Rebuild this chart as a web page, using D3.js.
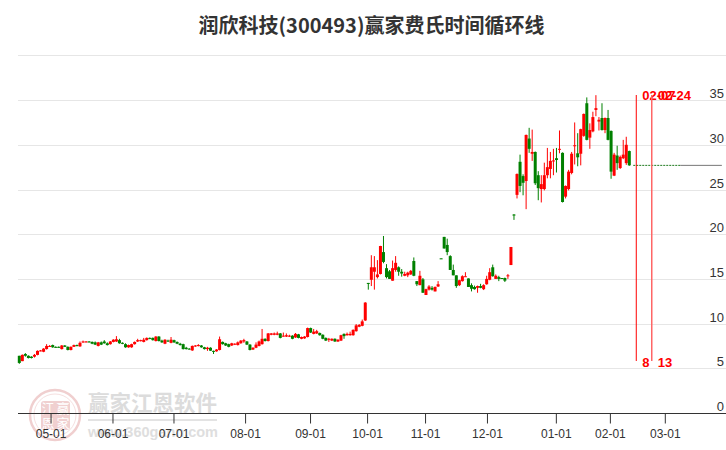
<!DOCTYPE html>
<html><head><meta charset="utf-8">
<script src="https://cdn.jsdelivr.net/npm/d3@7"></script>
<style>html,body{margin:0;padding:0;background:#fff;overflow:hidden}svg{display:block}</style>
</head><body><div id="chart"></div>
<script>
const titleText="润欣科技(300493)赢家费氏时间循环线";
const opens=[6.4,5.8,6.6,6.4,6.3,6.3,6.5,6.95,6.85,7.15,7.45,7.6,7.4,7.4,7.15,7.55,7.4,7.05,7.4,7.6,7.45,7.9,7.95,8.0,7.95,7.9,7.5,7.9,8.0,7.8,7.7,7.95,8.0,
8.15,7.85,7.7,7.35,7.35,7.7,8.0,8.05,7.95,8.15,8.4,8.4,8.05,8.55,8.1,7.75,8.1,7.85,8.15,7.95,7.75,7.7,7.3,7.2,7.0,7.45,7.5,7.55,7.35,7.15,7.3,6.95,6.9,7.05,
7.95,7.8,7.7,7.55,7.65,7.6,7.8,8.0,8.0,7.65,7.1,7.3,7.5,7.7,8.3,8.05,8.75,8.75,8.75,8.9,8.6,8.55,8.55,8.65,8.45,8.8,8.3,8.35,8.5,9.5,8.85,
8.9,8.95,8.75,8.4,8.25,8.1,8.3,8.0,8.1,8.85,8.7,8.7,8.7,9.15,9.65,9.75,10.35,
14.55,14.9,15.8,15.2,15.55,18,16.2,15.85,14.8,16,16.3,15.8,15.35,15.4,15.5,17,14.75,14.3,14.95,13.2,13.8,14,13.6,14.15,17.3,19.7,18.8,17.55,16,15.4,14.3,14.75,15.25,15.05,14.3,14.1,14.0,14.2,13.85,14.4,14.9,16.3,15,15.2,15.1,15.1,15.35,16.55,
22.2,24.4,28.1,26.5,25.95,30.7,29,29.2,26.6,25.05,25.05,26.6,27.3,28.15,28.5,29.45,29.1,24.2,25.05,26.85,29.85,29.05,29,31,34.65,30.8,31.5,33.9,32.6,33,31.65,33,31.55,26.55,28.8,27.4,28.5,27.95,29.3];
const closes=[5.6,6.5,6.4,6.15,6.15,6.5,6.95,7.0,7.2,7.5,7.5,7.35,7.35,7.35,7.55,7.4,7.05,7.4,7.6,7.5,7.85,8.0,8.0,7.95,7.75,7.65,7.9,7.65,7.8,7.6,8.0,8.2,8.25,
7.8,7.75,7.35,7.6,7.7,7.95,8.15,8.15,8.2,8.4,8.3,8.15,8.55,8.05,7.9,8.2,8.0,8.2,7.9,7.75,7.6,7.15,7.15,7.15,7.5,7.55,7.6,7.35,7.15,7.3,6.97,6.85,7.1,8.25,
7.7,7.55,7.4,7.8,7.75,7.9,8.1,8.15,7.65,7.05,7.3,7.65,8.0,8.3,8.05,8.9,8.9,8.9,8.9,8.4,8.65,8.7,8.65,8.3,8.85,8.4,8.5,8.55,9.5,9.0,9.1,
9.15,8.7,8.3,8.1,8.3,8.3,8.0,8.2,8.7,8.6,8.85,8.85,9.3,9.8,9.85,10.25,12.35,
14.5,16.3,16.3,15.5,18.68,16.9,15.2,15.0,16.2,16.8,15.8,15.6,15.55,15.7,15.9,15.35,14.4,15.35,13.45,13.85,14.15,13.8,14.1,14.4,17.25,18.4,18,16,15.4,14.2,14.85,15.3,15.3,14.1,13.9,13.85,14.2,14.0,14.3,15,15.75,15.3,15.35,15,15.05,14.8,15.4,18.57,
22.15,26.73,25.4,25.75,31.1,29.55,29.2,25.7,25.15,25.6,26.6,27.5,28.2,28.25,28.3,29.55,23.6,25.4,27,29,29.95,28.6,31.75,33.45,30.55,31.65,33.1,34.1,32.8,31.65,33,30.55,27,28.9,27.95,28.65,28.9,30,27.7];
const highs=[6.4,6.55,6.7,6.45,6.35,6.6,7.0,7.05,7.25,7.7,7.6,7.65,7.45,7.45,7.6,7.6,7.45,7.45,7.65,7.65,8.0,8.1,8.05,8.05,8.0,8.0,7.95,8.0,8.15,7.9,8.05,8.25,8.6,
8.3,7.9,7.8,7.65,7.75,8.0,8.3,8.2,8.4,8.45,8.45,8.45,8.6,8.6,8.2,8.25,8.2,8.5,8.2,8.0,7.85,7.75,7.4,7.25,7.55,7.6,7.7,7.6,7.4,7.4,7.35,6.98,7.15,8.55,
8.0,7.85,7.75,7.85,7.8,8.0,8.15,8.3,8.05,7.7,7.35,7.9,8.1,9.4,8.35,8.95,8.95,9.0,9.1,8.95,9.0,8.9,8.75,8.7,8.95,8.85,8.55,8.6,9.55,9.55,9.4,
9.3,9.0,8.8,8.45,8.4,8.35,8.35,8.25,8.75,8.9,9.0,9.1,9.35,9.95,9.95,10.45,12.4,
14.55,17.65,17.55,17.1,18.7,19.8,16.65,16.0,17.05,17.55,16.4,16.1,15.8,15.8,16.0,17.4,14.75,15.9,15.1,13.9,14.3,14.2,14.15,14.75,17.3,19.7,19.5,17.65,16.6,15.4,14.9,15.4,15.75,15.05,14.5,14.25,14.25,14.45,14.4,15.35,16.2,16.6,15.5,15.35,15.1,15.15,15.55,18.57,
22.25,26.8,28.9,26.7,31.15,31.9,31.7,29.25,27.05,26.6,28,29.65,29.2,29.55,29.65,31.6,29.15,25.45,27.2,29.2,32.5,31.3,31.8,33.5,35.3,32.4,33.7,35.55,33.1,34.65,33.05,33.9,31.6,29.1,29.9,28.8,30.55,30.9,29.35];
const lows=[5.5,5.8,6.3,6.1,6.1,6.2,6.45,6.9,6.8,7.1,7.4,7.3,7.3,7.3,7.1,7.4,7.0,7.0,7.4,7.45,7.4,7.85,7.9,7.9,7.7,7.6,7.45,7.6,7.75,7.55,7.65,7.9,7.95,
7.75,7.7,7.3,7.3,7.3,7.65,7.95,8.0,7.9,8.1,8.25,8.1,8.0,8.0,7.85,7.7,7.95,7.8,7.85,7.7,7.55,7.1,7.1,7.1,6.95,7.4,7.45,7.3,7.1,6.95,6.95,6.6,6.85,7.0,
7.65,7.5,7.35,7.5,7.6,7.55,7.75,7.85,7.6,7.0,7.05,7.25,7.45,7.65,8.0,8.0,8.7,8.7,8.7,8.35,8.55,8.5,8.5,8.25,8.4,8.35,8.25,8.3,8.45,8.95,8.8,
8.85,8.65,8.25,8.05,7.95,8.05,7.95,7.95,8.05,8.3,8.65,8.65,8.65,9.1,9.6,9.7,10.3,
13.8,14.2,13.8,15.05,15.5,16.75,15.05,15,14.8,15.8,15.35,15.25,15.3,15.2,15.45,15.3,14.2,14.3,13.45,13.2,13.7,13.7,13.6,14.1,17.25,18.4,17.65,16,15.4,14,14.2,14.7,15.25,14.1,13.6,13.8,13.45,13.95,13.75,14.35,14.85,15.25,15,14.75,15.05,14.65,15,16.55,
21.6,24.0,24.7,24.35,22.8,29.1,28.2,25.5,23.8,23.55,24.9,26.25,26.25,26.6,26.9,29.05,23.55,24,24.9,26.7,27.8,27.6,27.7,30.9,30.5,29.55,31.4,33.2,31.6,31.6,31.3,30.5,26.2,26.5,27.2,27.3,28.4,27.75,27.65];

const yTicks=[0,5,10,15,20,25,30,35];
const gridValues=[5,10,15,20,25,30,35,40];
const tickLabels=["05-01","06-01","07-01","08-01","09-01","10-01","11-01","12-01","01-01","02-01","03-01"];
const tickSlots=[10.3,30.7,50.8,74.4,95.8,114.6,133.7,154.1,176.8,194.6,212.7];
const cycleSlots=[203.3,208.4];
const cycleDates=["02-07","02-24"];
const cycleCounts=["8","13"];
const lastSlots=[202.3,217.8,231.5];

const W=726,H=450;
const svg=d3.select("#chart").append("svg").attr("width",W).attr("height",H).style("font-family","'Liberation Sans',Arial,sans-serif");
const x=d3.scaleLinear().domain([0,opens.length-1]).range([19.3,629.3]);
const y=d3.scaleLinear().domain([0,40]).range([413,55.4]);

// watermark
const wm=svg.append("g");
wm.append("circle").attr("cx",55).attr("cy",415).attr("r",25).attr("fill","none").attr("stroke","#f0cfcf").attr("stroke-width",2.5);
wm.append("circle").attr("cx",55).attr("cy",415).attr("r",21).attr("fill","none").attr("stroke","#f6e0e0").attr("stroke-width",1);
wm.append("rect").attr("x",41).attr("y",401).attr("width",29).attr("height",29).attr("rx",3).attr("fill","#f0d0d0");
[["江",48,413],["赢",63,413],["恩",48,428],["家",63,428]].forEach(d=>{
  wm.append("text").attr("x",d[1]).attr("y",d[2]).attr("text-anchor","middle").attr("font-size",13).attr("font-family","'Noto Sans CJK SC'").attr("fill","#fff").text(d[0]);
});
wm.append("text").attr("x",88).attr("y",411).attr("font-size",21.5).attr("font-weight",700).attr("font-family","'Noto Sans CJK SC'").attr("fill","#dcdcdc").text("赢家江恩软件");
wm.append("rect").attr("x",88).attr("y",419).attr("width",129).attr("height",2).attr("fill","#e3e3e3");
wm.append("text").attr("x",88).attr("y",437).attr("font-size",14.5).attr("font-weight",700).attr("fill","#dedede").text("www.360gann.com");

// grid
svg.append("g").selectAll("line").data(gridValues).join("line")
  .attr("x1",18).attr("x2",W).attr("y1",d=>Math.round(y(d))+.5).attr("y2",d=>Math.round(y(d))+.5)
  .attr("stroke","#e6e6e6").attr("stroke-width",1);

// x axis
const xAxis=d3.axisBottom(x).tickValues(tickSlots).tickFormat((d,i)=>tickLabels[i]).tickSize(10).tickPadding(6);
const gx=svg.append("g").attr("transform","translate(0,413.5)").call(xAxis);
gx.select(".domain").attr("d",`M18,0H${W}`).attr("stroke","#333");
gx.selectAll("line").attr("stroke","#333");
gx.selectAll("text").attr("font-size",12).attr("font-family","'Liberation Sans',Arial,sans-serif").attr("fill","#333");

// y axis
const yAxis=d3.axisLeft(y).tickValues(yTicks).tickSize(0).tickPadding(0).tickFormat(d3.format("d"));
const gy=svg.append("g").attr("transform","translate(724,0)").call(yAxis);
gy.select(".domain").remove();
gy.selectAll("text").attr("font-size",13).attr("font-family","'Liberation Sans',Arial,sans-serif").attr("fill","#333").attr("dy",-2.5);

// candles
const idx=d3.range(opens.length);
const col=i=>closes[i]>=opens[i]?"#ff0000":"#008000";
const g=svg.append("g");
g.selectAll("line").data(idx).join("line")
  .attr("x1",i=>x(i)).attr("x2",i=>x(i)).attr("y1",i=>y(highs[i])).attr("y2",i=>y(lows[i]))
  .attr("stroke",col).attr("stroke-width",1);
g.selectAll("rect").data(idx).join("rect")
  .attr("x",i=>x(i)-1.5).attr("width",3)
  .attr("y",i=>y(Math.max(opens[i],closes[i])))
  .attr("height",i=>Math.max(1,Math.abs(y(opens[i])-y(closes[i]))))
  .attr("fill",col);

// last price extension
const lastClose=closes[closes.length-1];
svg.append("line").attr("x1",x(lastSlots[0])).attr("x2",x(lastSlots[1])).attr("y1",y(lastClose)).attr("y2",y(lastClose)).attr("stroke","#1f7a1f").attr("stroke-width",1).attr("stroke-dasharray","2 1");
svg.append("line").attr("x1",x(lastSlots[1])).attr("x2",x(lastSlots[2])).attr("y1",y(lastClose)).attr("y2",y(lastClose)).attr("stroke","#777").attr("stroke-width",1);

// cycle lines
cycleSlots.forEach((s,i)=>{
  svg.append("line").attr("x1",x(s)).attr("x2",x(s)).attr("y1",95).attr("y2",361)
    .attr("stroke",i==0?"#ff0000":"#ff6666").attr("stroke-width",i==0?1:1.5);
  svg.append("text").attr("x",x(s)+6).attr("y",99.5).attr("font-size",13).attr("font-weight",700).attr("fill","#ff0000").text(cycleDates[i]);
  svg.append("text").attr("x",x(s)+6).attr("y",367).attr("font-size",13).attr("font-weight",700).attr("fill","#ff0000").text(cycleCounts[i]);
});

// title
svg.append("text").attr("x",371.5).attr("y",33).attr("text-anchor","middle").attr("font-size",20).attr("font-weight",700)
  .attr("font-family","'Noto Sans CJK SC'").attr("fill","#333").text(titleText);
</script></body></html>
